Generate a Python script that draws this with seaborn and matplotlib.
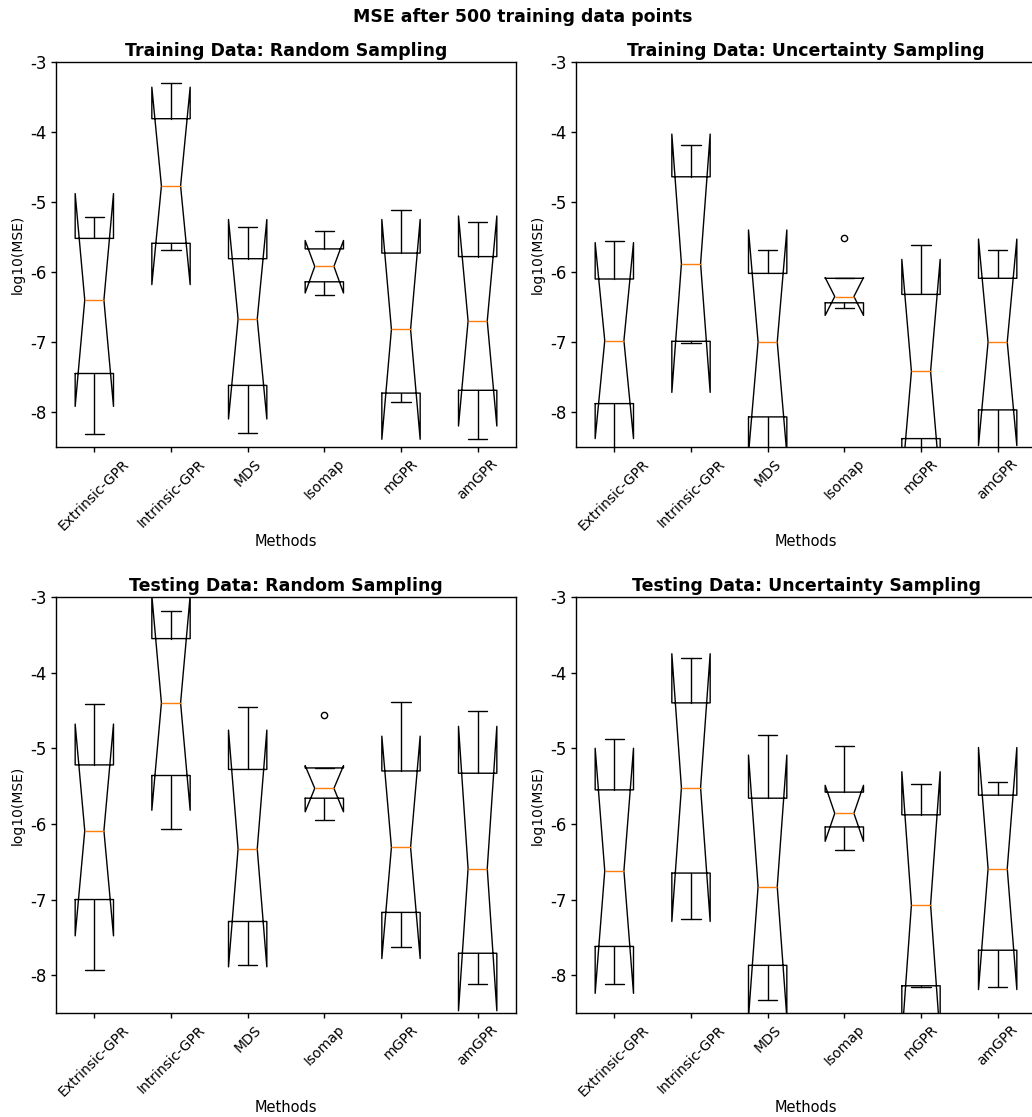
import matplotlib
matplotlib.use("Agg")
import matplotlib.pyplot as plt
import seaborn as sns

# ---------------- data ----------------
methods = ["Extrinsic-GPR", "Intrinsic-GPR", "MDS", "Isomap", "mGPR", "amGPR"]
ytick_values = [-8, -7, -6, -5, -4, -3]
ytick_labels = ["-8", "-7", "-6", "-5", "-4", "-3"]

# Training Data: Random Sampling
tr_rand_med = [-6.40, -4.77, -6.67, -5.92, -6.82, -6.70]
tr_rand_q1 = [-7.45, -5.59, -7.62, -6.14, -7.73, -7.69]
tr_rand_q3 = [-5.52, -3.81, -5.81, -5.67, -5.73, -5.78]
tr_rand_whislo = [-8.31, -5.69, -8.30, -6.33, -7.85, -8.39]
tr_rand_whishi = [-5.21, -3.30, -5.35, -5.41, -5.11, -5.29]
tr_rand_cilo = [-7.92, -6.18, -8.10, -6.30, -8.39, -8.20]
tr_rand_cihi = [-4.88, -3.36, -5.25, -5.55, -5.25, -5.20]
tr_rand_fliers = [[], [], [], [], [], []]

# Training Data: Uncertainty Sampling
tr_unc_med = [-6.98, -5.88, -7.00, -6.35, -7.42, -7.00]
tr_unc_q1 = [-7.88, -6.99, -8.07, -6.44, -8.38, -7.97]
tr_unc_q3 = [-6.10, -4.64, -6.02, -6.09, -6.32, -6.09]
tr_unc_whislo = [-8.90, -7.02, -9.00, -6.51, -9.20, -8.90]
tr_unc_whishi = [-5.55, -4.19, -5.68, -6.09, -5.61, -5.68]
tr_unc_cilo = [-8.38, -7.72, -8.60, -6.62, -9.03, -8.48]
tr_unc_cihi = [-5.58, -4.03, -5.40, -6.08, -5.82, -5.53]
tr_unc_fliers = [[], [], [], [-5.51], [], []]

# Testing Data: Random Sampling
te_rand_med = [-6.09, -4.40, -6.33, -5.53, -6.31, -6.59]
te_rand_q1 = [-7.00, -5.36, -7.29, -5.66, -7.17, -7.71]
te_rand_q3 = [-5.22, -3.55, -5.28, -5.26, -5.30, -5.33]
te_rand_whislo = [-7.93, -6.07, -7.87, -5.95, -7.63, -8.11]
te_rand_whishi = [-4.42, -3.18, -4.46, -5.26, -4.39, -4.51]
te_rand_cilo = [-7.48, -5.82, -7.89, -5.84, -7.78, -8.47]
te_rand_cihi = [-4.68, -2.98, -4.76, -5.23, -4.84, -4.71]
te_rand_fliers = [[], [], [], [-4.56], [], []]

# Testing Data: Uncertainty Sampling
te_unc_med = [-6.62, -5.52, -6.83, -5.86, -7.07, -6.59]
te_unc_q1 = [-7.62, -6.65, -7.87, -6.04, -8.14, -7.67]
te_unc_q3 = [-5.55, -4.40, -5.66, -5.58, -5.88, -5.62]
te_unc_whislo = [-8.11, -7.26, -8.33, -6.34, -8.16, -8.15]
te_unc_whishi = [-4.88, -3.80, -4.83, -4.97, -5.47, -5.44]
te_unc_cilo = [-8.24, -7.29, -8.56, -6.23, -8.84, -8.19]
te_unc_cihi = [-5.00, -3.75, -5.09, -5.49, -5.31, -4.99]
te_unc_fliers = [[], [], [], [], [], []]

titles = ["Training Data: Random Sampling", "Training Data: Uncertainty Sampling",
          "Testing Data: Random Sampling", "Testing Data: Uncertainty Sampling"]

# ---------------- style ----------------
sns.set_theme(style="ticks", rc={
    "axes.edgecolor": "black", "xtick.color": "black", "ytick.color": "black",
    "text.color": "black", "axes.labelcolor": "black",
    "axes.linewidth": 1.0, "xtick.major.size": 3.5, "ytick.major.size": 3.5,
    "axes.unicode_minus": False,
})
plt.rcParams["font.family"] = ["DejaVu Sans"]


def make_stats(med, q1, q3, wlo, whi, clo, chi, fl):
    out = []
    for i, name in enumerate(methods):
        out.append(dict(label=name, med=med[i], q1=q1[i], q3=q3[i],
                        whislo=wlo[i], whishi=whi[i], cilo=clo[i], cihi=chi[i],
                        fliers=fl[i]))
    return out


panels = [
    make_stats(tr_rand_med, tr_rand_q1, tr_rand_q3, tr_rand_whislo, tr_rand_whishi,
               tr_rand_cilo, tr_rand_cihi, tr_rand_fliers),
    make_stats(tr_unc_med, tr_unc_q1, tr_unc_q3, tr_unc_whislo, tr_unc_whishi,
               tr_unc_cilo, tr_unc_cihi, tr_unc_fliers),
    make_stats(te_rand_med, te_rand_q1, te_rand_q3, te_rand_whislo, te_rand_whishi,
               te_rand_cilo, te_rand_cihi, te_rand_fliers),
    make_stats(te_unc_med, te_unc_q1, te_unc_q3, te_unc_whislo, te_unc_whishi,
               te_unc_cilo, te_unc_cihi, te_unc_fliers),
]

W, H = 1032, 1117
fig = plt.figure(figsize=(W / 100, H / 100), dpi=100)
rects = [
    [56 / W, (H - 447) / H, 460 / W, 385 / H],
    [576 / W, (H - 447) / H, 460 / W, 385 / H],
    [56 / W, (H - 1013) / H, 460 / W, 416 / H],
    [576 / W, (H - 1013) / H, 460 / W, 416 / H],
]
# label anchor offsets (axes fraction)
xlabel_y = [-0.227, -0.227, -0.209, -0.209]

for rect, stats, title, xly in zip(rects, panels, titles, xlabel_y):
    ax = fig.add_axes(rect)
    ax.bxp(stats, positions=range(1, len(methods) + 1), widths=0.5, shownotches=True,
           boxprops=dict(color="black", linewidth=1.0),
           whiskerprops=dict(color="black", linewidth=1.0),
           capprops=dict(color="black", linewidth=1.0),
           medianprops=dict(color="#ff7f0e", linewidth=1.0),
           flierprops=dict(marker="o", markerfacecolor="none",
                           markeredgecolor="black", markersize=4.5,
                           markeredgewidth=1.0))
    ax.set_xlim(0.5, 6.5)
    ax.set_ylim(-8.5, -3)
    ax.set_yticks(ytick_values)
    ax.set_yticklabels(ytick_labels)
    ax.set_xticks(range(1, len(methods) + 1))
    ax.set_xticklabels(methods, rotation=45)
    ax.tick_params(axis="y", labelsize=12, width=1.0)
    ax.tick_params(axis="x", labelsize=10, width=1.0)
    ax.set_title(title, fontsize=12.5, fontweight="bold", pad=4)
    ax.set_xlabel("Methods", fontsize=10.5)
    ax.set_ylabel("log10(MSE)", fontsize=10)
    ax.xaxis.set_label_coords(0.5, xly)
    ax.yaxis.set_label_coords(-0.0674, 0.5)

fig.suptitle("MSE after 500 training data points", fontsize=12.5, fontweight="bold",
             x=0.507, y=1 - 17 / H, va="center")

fig.savefig("out.png", dpi=100)
